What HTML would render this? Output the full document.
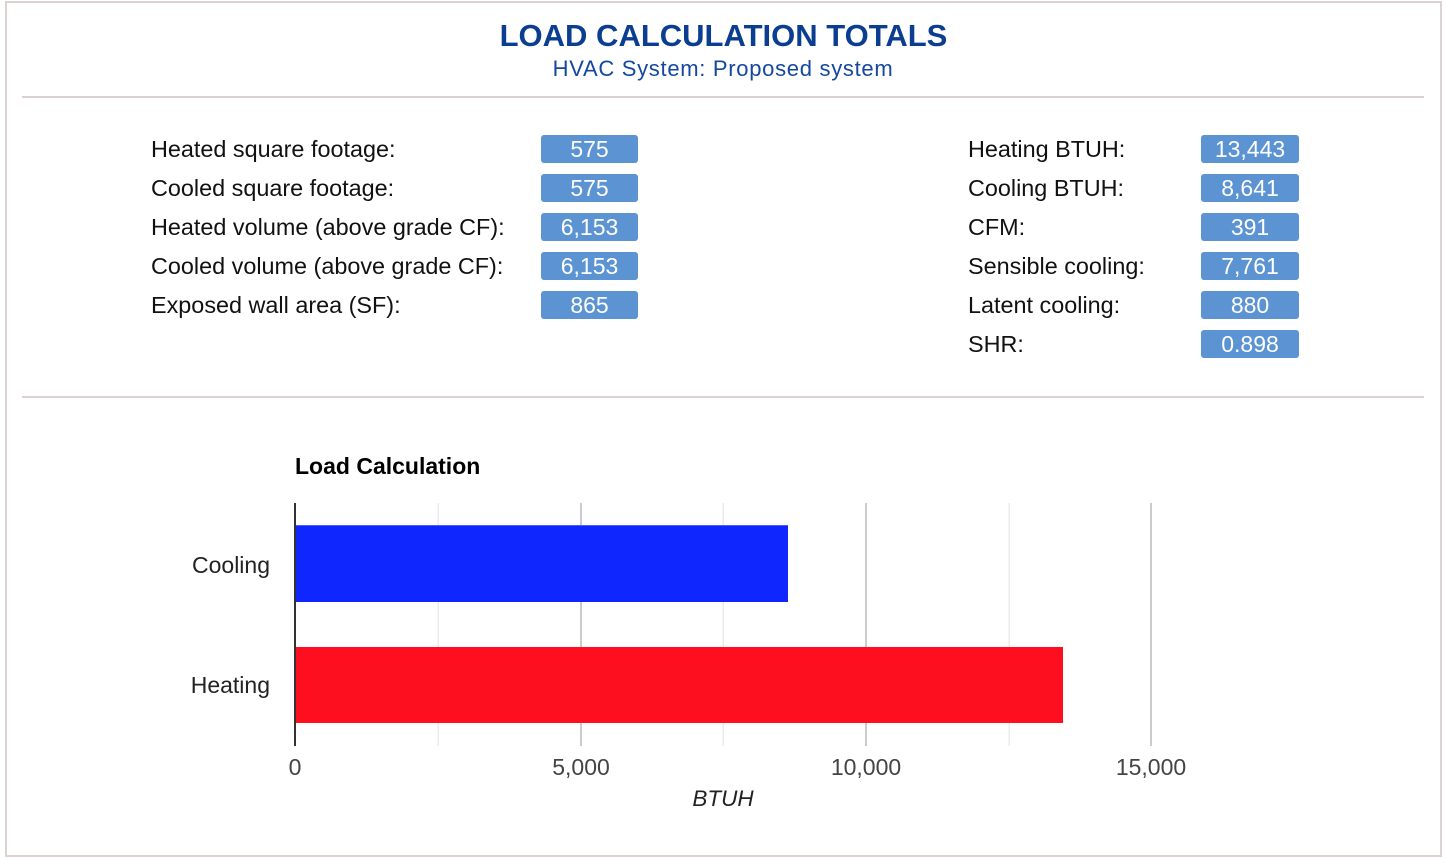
<!DOCTYPE html>
<html>
<head>
<meta charset="utf-8">
<style>
  html, body { margin: 0; padding: 0; background: #ffffff; }
  svg { display: block; }
  text { font-family: "Liberation Sans", Arial, sans-serif; }
</style>
</head>
<body>
<svg width="1448" height="858" viewBox="0 0 1448 858" xmlns="http://www.w3.org/2000/svg">
  <rect x="0" y="0" width="1448" height="858" fill="#ffffff"/>
  <!-- outer border -->
  <rect x="6" y="2" width="1435" height="854" fill="none" stroke="#dcd2d2" stroke-width="2"/>

  <!-- header -->
  <text x="723.5" y="46" text-anchor="middle" font-size="31" font-weight="bold" fill="#0b3d91">LOAD CALCULATION TOTALS</text>
  <text x="723" y="76" text-anchor="middle" font-size="22" letter-spacing="0.7" fill="#1448a0">HVAC System: Proposed system</text>

  <!-- separators -->
  <rect x="22" y="96" width="1402" height="2" fill="#dcd2d2"/>
  <rect x="22" y="396" width="1402" height="2" fill="#dcd2d2"/>

  <!-- left column -->
  <g font-size="23.4" fill="#111">
    <text x="151" y="157">Heated square footage:</text>
    <text x="151" y="196">Cooled square footage:</text>
    <text x="151" y="235">Heated volume (above grade CF):</text>
    <text x="151" y="274">Cooled volume (above grade CF):</text>
    <text x="151" y="313">Exposed wall area (SF):</text>
  </g>
  <g fill="#5b93d3">
    <rect x="541" y="135" width="97" height="28" rx="3"/>
    <rect x="541" y="174" width="97" height="28" rx="3"/>
    <rect x="541" y="213" width="97" height="28" rx="3"/>
    <rect x="541" y="252" width="97" height="28" rx="3"/>
    <rect x="541" y="291" width="97" height="28" rx="3"/>
  </g>
  <g font-size="23" fill="#ffffff" text-anchor="middle">
    <text x="589.5" y="157">575</text>
    <text x="589.5" y="196">575</text>
    <text x="589.5" y="235">6,153</text>
    <text x="589.5" y="274">6,153</text>
    <text x="589.5" y="313">865</text>
  </g>

  <!-- right column -->
  <g font-size="23.4" fill="#111">
    <text x="968" y="157">Heating BTUH:</text>
    <text x="968" y="196">Cooling BTUH:</text>
    <text x="968" y="235">CFM:</text>
    <text x="968" y="274">Sensible cooling:</text>
    <text x="968" y="313">Latent cooling:</text>
    <text x="968" y="352">SHR:</text>
  </g>
  <g fill="#5b93d3">
    <rect x="1201" y="135" width="98" height="28" rx="3"/>
    <rect x="1201" y="174" width="98" height="28" rx="3"/>
    <rect x="1201" y="213" width="98" height="28" rx="3"/>
    <rect x="1201" y="252" width="98" height="28" rx="3"/>
    <rect x="1201" y="291" width="98" height="28" rx="3"/>
    <rect x="1201" y="330" width="98" height="28" rx="3"/>
  </g>
  <g font-size="23" fill="#ffffff" text-anchor="middle">
    <text x="1250" y="157">13,443</text>
    <text x="1250" y="196">8,641</text>
    <text x="1250" y="235">391</text>
    <text x="1250" y="274">7,761</text>
    <text x="1250" y="313">880</text>
    <text x="1250" y="352">0.898</text>
  </g>

  <!-- chart -->
  <text x="295" y="474" font-size="23" font-weight="bold" fill="#000">Load Calculation</text>

  <!-- minor gridlines -->
  <g fill="#ebebeb">
    <rect x="437.5" y="503" width="1.5" height="243"/>
    <rect x="722.5" y="503" width="1.5" height="243"/>
    <rect x="1008.5" y="503" width="1.5" height="243"/>
  </g>
  <!-- major gridlines -->
  <g fill="#cccccc">
    <rect x="580" y="503" width="2" height="243"/>
    <rect x="865" y="503" width="2" height="243"/>
    <rect x="1150" y="503" width="2" height="243"/>
  </g>

  <!-- bars -->
  <rect x="296" y="525" width="492" height="77" fill="#0f26fe"/>
  <rect x="296" y="525" width="492" height="1" fill="#4a5cff"/>
  <rect x="296" y="647" width="767" height="76" fill="#fd0f20"/>

  <!-- axis line -->
  <rect x="294" y="503" width="2" height="243" fill="#333333"/>

  <!-- category labels -->
  <g font-size="23" fill="#222" text-anchor="end">
    <text x="270" y="573">Cooling</text>
    <text x="270" y="693">Heating</text>
  </g>

  <!-- tick labels -->
  <g font-size="23" fill="#444" text-anchor="middle">
    <text x="295" y="775">0</text>
    <text x="581" y="775">5,000</text>
    <text x="866" y="775">10,000</text>
    <text x="1151" y="775">15,000</text>
  </g>

  <text x="723" y="806" font-size="22.5" font-style="italic" fill="#222" text-anchor="middle">BTUH</text>
</svg>
</body>
</html>
